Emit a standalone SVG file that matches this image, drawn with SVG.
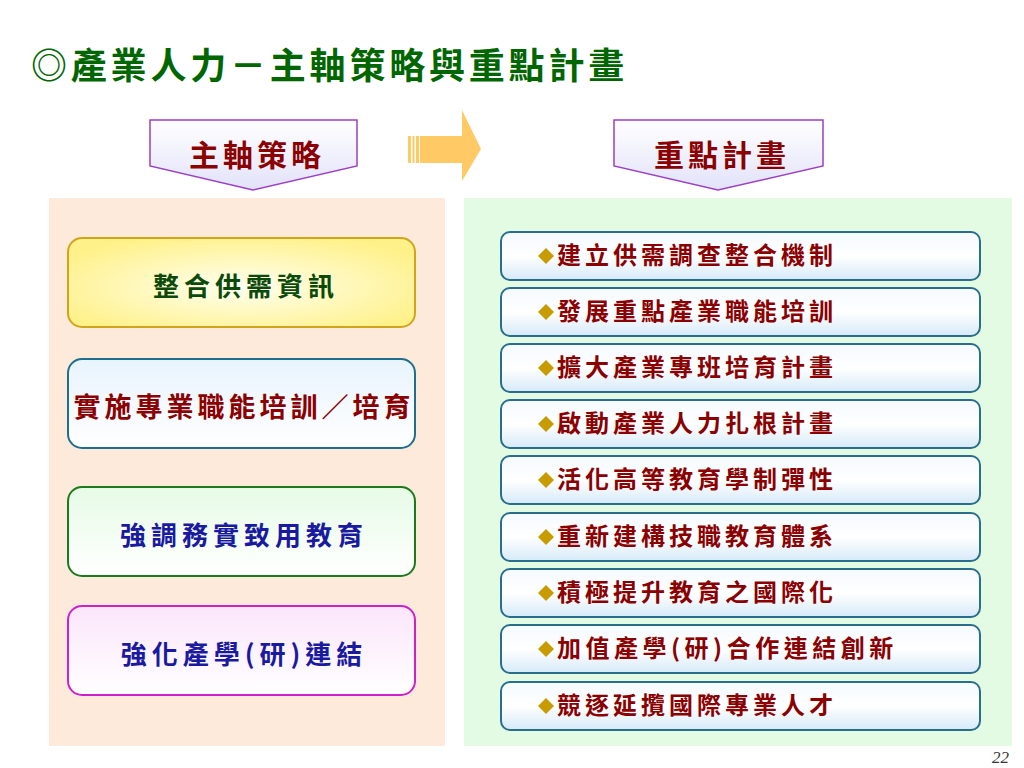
<svg xmlns="http://www.w3.org/2000/svg" width="1024" height="768" viewBox="0 0 1024 768">
<defs>
<style>
.cjk{font-family:"Noto Sans CJK TC","Noto Sans CJK SC",sans-serif;font-weight:bold}
.title{font-size:36px;fill:#006600;letter-spacing:3.8px}
.hdr{font-size:30px;fill:#8B0000;letter-spacing:4px}
.strat{font-size:26px;letter-spacing:5px}
.plan{font-size:24px;fill:#8B0000;letter-spacing:4px}
.pnode{stroke:#2A6E8E;stroke-width:2;fill:url(#gBlue)}
.dia{fill:#C89B00}
</style>
<linearGradient id="gHdr" x1="0" y1="0" x2="0" y2="1"><stop offset="0" stop-color="#FFFFFF"/><stop offset="1" stop-color="#E2E2FA"/></linearGradient>
<linearGradient id="gBlue" x1="0" y1="0" x2="0" y2="1"><stop offset="0" stop-color="#F4FAFF"/><stop offset="0.5" stop-color="#FFFFFF"/><stop offset="1" stop-color="#D6EAF8"/></linearGradient>
<radialGradient id="gYel" cx="0.5" cy="0.55" r="0.6"><stop offset="0" stop-color="#FFFFF0"/><stop offset="1" stop-color="#FFF18A"/></radialGradient>
<linearGradient id="gLB" x1="0" y1="0" x2="0" y2="1"><stop offset="0" stop-color="#E8F4FD"/><stop offset="1" stop-color="#FFFFFF"/></linearGradient>
<linearGradient id="gLG" x1="0" y1="0" x2="0" y2="1"><stop offset="0" stop-color="#E6FBE6"/><stop offset="1" stop-color="#FFFFFF"/></linearGradient>
<linearGradient id="gPk" x1="0" y1="0" x2="0" y2="1"><stop offset="0" stop-color="#FBE6FB"/><stop offset="1" stop-color="#FFFFFF"/></linearGradient>
</defs>
<rect width="1024" height="768" fill="#FFFFFF"/>
<text class="cjk title" x="31" y="79">◎產業人力－主軸策略與重點計畫</text>

<rect x="49" y="198" width="396" height="548" fill="#FDEADB"/>
<rect x="464" y="198" width="548" height="548" fill="#E3FBE3"/>

<g id="hdr-left">
<path d="M150,120 H357 V166 L253,190 L150,166 Z" fill="url(#gHdr)" stroke="#9B3FC4" stroke-width="1.5"/>
<text class="cjk hdr" x="257" y="166" text-anchor="middle">主軸策略</text>
</g>
<g id="hdr-right">
<path d="M614,120 H823 V166 L718,190 L614,166 Z" fill="url(#gHdr)" stroke="#9B3FC4" stroke-width="1.5"/>
<text class="cjk hdr" x="722" y="166" text-anchor="middle">重點計畫</text>
</g>

<g id="connectors">
<g fill="#FFC966">
<rect x="408" y="136" width="3" height="27"/>
<rect x="412.5" y="136" width="2" height="27"/>
<rect x="416" y="136" width="3" height="27"/>
<path d="M420,136 H462 V110 L481,149 L462,181 V163 H420 Z"/>
</g>
</g>

<g id="s1"><rect x="68" y="238" width="347" height="89" rx="14" fill="url(#gYel)" stroke="#D2A41C" stroke-width="2"/>
<text class="cjk strat" x="246" y="296" text-anchor="middle" fill="#0B4A0B">整合供需資訊</text></g>
<g id="s2"><rect x="68" y="359" width="347" height="89" rx="14" fill="url(#gLB)" stroke="#1F6E8C" stroke-width="2"/>
<text class="cjk strat" x="244" y="417" text-anchor="middle" fill="#8B0000" style="letter-spacing:4px;font-size:27px">實施專業職能培訓／培育</text></g>
<g id="s3"><rect x="68" y="487" width="347" height="89" rx="14" fill="url(#gLG)" stroke="#1B7A1B" stroke-width="2"/>
<text class="cjk strat" x="244" y="545" text-anchor="middle" fill="#1A1AA0">強調務實致用教育</text></g>
<g id="s4"><rect x="68" y="606" width="347" height="89" rx="14" fill="url(#gPk)" stroke="#CC22CC" stroke-width="2"/>
<text class="cjk strat" x="244" y="664" text-anchor="middle" fill="#1A1AA0">強化產學(研)連結</text></g>

<g id="p1"><rect class="pnode" x="501" y="232" width="479" height="48" rx="9"/><path class="dia" d="M538,256 l8,-8 l8,8 l-8,8 Z"/><text class="cjk plan" x="557" y="264">建立供需調查整合機制</text></g>
<g id="p2"><rect class="pnode" x="501" y="288" width="479" height="48" rx="9"/><path class="dia" d="M538,312 l8,-8 l8,8 l-8,8 Z"/><text class="cjk plan" x="557" y="320">發展重點產業職能培訓</text></g>
<g id="p3"><rect class="pnode" x="501" y="344" width="479" height="48" rx="9"/><path class="dia" d="M538,368 l8,-8 l8,8 l-8,8 Z"/><text class="cjk plan" x="557" y="376">擴大產業專班培育計畫</text></g>
<g id="p4"><rect class="pnode" x="501" y="400" width="479" height="48" rx="9"/><path class="dia" d="M538,424 l8,-8 l8,8 l-8,8 Z"/><text class="cjk plan" x="557" y="432">啟動產業人力扎根計畫</text></g>
<g id="p5"><rect class="pnode" x="501" y="456" width="479" height="48" rx="9"/><path class="dia" d="M538,480 l8,-8 l8,8 l-8,8 Z"/><text class="cjk plan" x="557" y="488">活化高等教育學制彈性</text></g>
<g id="p6"><rect class="pnode" x="501" y="513" width="479" height="48" rx="9"/><path class="dia" d="M538,537 l8,-8 l8,8 l-8,8 Z"/><text class="cjk plan" x="557" y="545">重新建構技職教育體系</text></g>
<g id="p7"><rect class="pnode" x="501" y="569" width="479" height="48" rx="9"/><path class="dia" d="M538,593 l8,-8 l8,8 l-8,8 Z"/><text class="cjk plan" x="557" y="601">積極提升教育之國際化</text></g>
<g id="p8"><rect class="pnode" x="501" y="625" width="479" height="48" rx="9"/><path class="dia" d="M538,649 l8,-8 l8,8 l-8,8 Z"/><text class="cjk plan" x="557" y="657" style="letter-spacing:4.5px">加值產學(研)合作連結創新</text></g>
<g id="p9"><rect class="pnode" x="501" y="682" width="479" height="48" rx="9"/><path class="dia" d="M538,706 l8,-8 l8,8 l-8,8 Z"/><text class="cjk plan" x="557" y="714">競逐延攬國際專業人才</text></g>

<text x="1009" y="763" text-anchor="end" font-family="Liberation Serif, serif" font-style="italic" font-size="17" fill="#333333">22</text>
</svg>
